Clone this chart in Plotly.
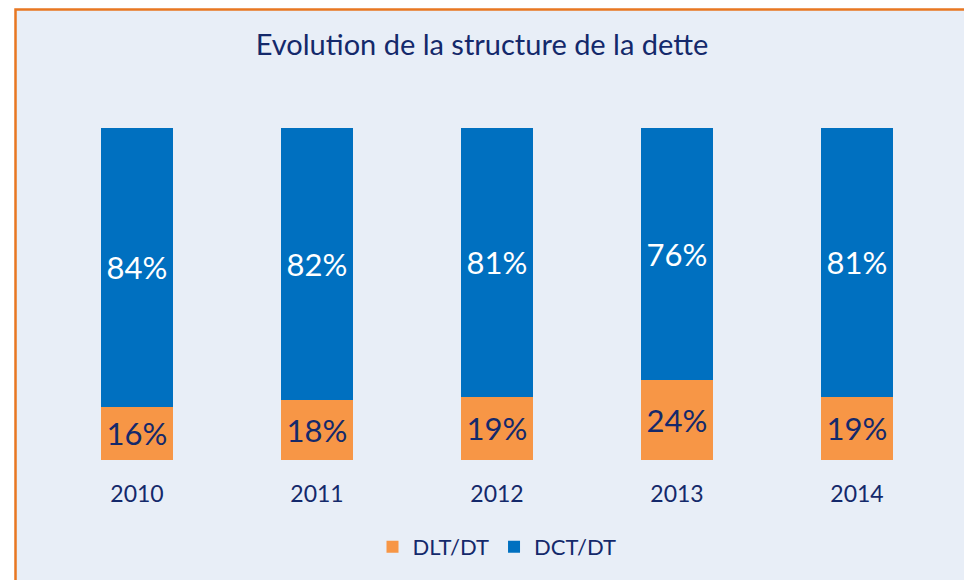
import plotly.graph_objects as go

years = ["2010", "2011", "2012", "2013", "2014"]
dlt_dt = [16, 18, 19, 24, 19]
dct_dt = [84, 82, 81, 76, 81]

W, H = 964, 580
L, R, T, B = 47, 17, 128, 120
pw = W - L - R
ph = H - T - B

def px_x(x):
    return (x - L) / pw

def px_y(y):
    return (H - B - y) / ph

navy = "#14296b"
orange = "#f79646"
blue = "#0070c0"
font_family = "Lato, 'Noto Sans', sans-serif"

fig = go.Figure()
fig.add_trace(go.Bar(
    x=years, y=dlt_dt, name="DLT/DT", marker_color=orange, marker_line_width=0,
    texttemplate="%{y}%", textposition="inside", insidetextanchor="middle", textangle=0,
    textfont=dict(color=navy, size=31, family=font_family),
))
fig.add_trace(go.Bar(
    x=years, y=dct_dt, name="DCT/DT", marker_color=blue, marker_line_width=0,
    texttemplate="%{y}%", textposition="inside", insidetextanchor="middle", textangle=0,
    textfont=dict(color="white", size=31, family=font_family),
))

fig.add_shape(
    type="rect", xref="paper", yref="paper", layer="below",
    x0=px_x(15.5), x1=px_x(975), y0=px_y(595), y1=px_y(9.5),
    fillcolor="#e8eef7", line=dict(color="#e87722", width=2.5),
)

fig.update_layout(
    width=W, height=H,
    margin=dict(l=L, r=R, t=T, b=B),
    barmode="stack", bargap=0.605,
    paper_bgcolor="white", plot_bgcolor="rgba(0,0,0,0)",
    title=dict(text="Evolution de la structure de la dette", x=0.5, xanchor="center",
               y=1 - 45 / H, yanchor="middle",
               font=dict(size=29, color=navy, family=font_family)),
    xaxis=dict(showgrid=False, zeroline=False, showline=False, ticks="",
               tickfont=dict(size=23, color=navy, family=font_family),
               ticklabelstandoff=18),
    yaxis=dict(range=[0, 100], visible=False),
    legend=dict(orientation="h", x=0.5, xanchor="center", y=px_y(547), yanchor="middle",
                font=dict(size=22, color=navy, family=font_family),
                bgcolor="rgba(0,0,0,0)", traceorder="normal"),
    showlegend=True,
)

fig.write_html("out.html", config={"displayModeBar": False},
               post_script="document.body.style.margin='0';document.body.style.overflow='hidden';")
